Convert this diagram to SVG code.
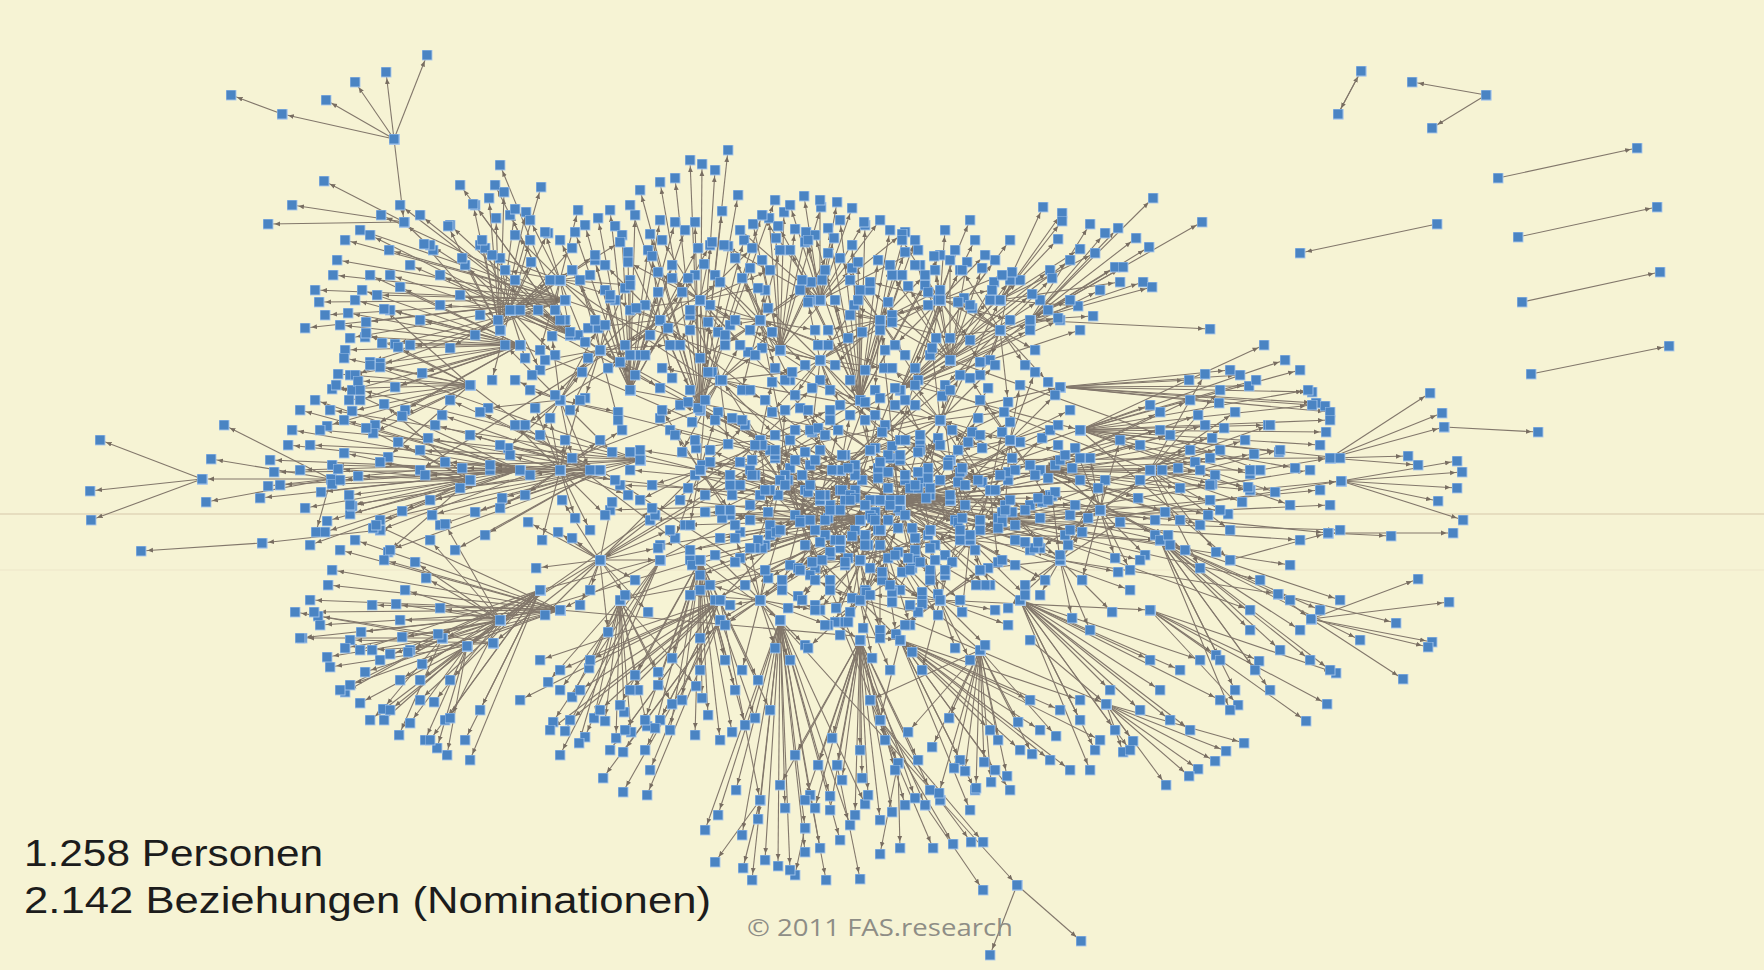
<svg xmlns="http://www.w3.org/2000/svg" xmlns:xlink="http://www.w3.org/1999/xlink" width="1764" height="970" viewBox="0 0 1764 970">
<style>
.E{fill:none;stroke:#82776b;stroke-width:1.1;marker-end:url(#ar)}
.N{fill:none;stroke:#000;stroke-opacity:0;marker-start:url(#sq);marker-end:url(#sq)}
.lbl{font-family:'Liberation Sans',Arial,sans-serif;fill:#1c1c1c}
</style>
<defs>
<marker id="ar" markerUnits="userSpaceOnUse" viewBox="0 0 12 6" markerWidth="12" markerHeight="6" refX="12" refY="3" orient="auto"><path d="M0 0.6L5.5 3L0 5.4z" fill="#786d61"/></marker>
<marker id="sq" markerUnits="userSpaceOnUse" viewBox="0 0 11 11" markerWidth="11" markerHeight="11" refX="5.5" refY="5.5" orient="0"><rect x="0.5" y="0.5" width="10" height="10" fill="#4a84c3" stroke="#a8c8ea" stroke-width="0.9"/></marker>
<g id="F1"><line x2="138" y2="4"/><line x2="126" y2="-27"/><line x2="118" y2="26"/><line x2="104" y2="-52"/><line x2="97" y2="48"/><line x2="86" y2="-76"/><line x2="82" y2="72"/><line x2="132" y2="-11"/><line x2="121" y2="15"/><line x2="72" y2="-38"/><line x2="68" y2="31"/><line x2="143" y2="41"/><line x2="112" y2="-4"/><line x2="90" y2="-18"/></g>
<g id="F2"><line x2="250" y2="-10"/><line x2="240" y2="15"/><line x2="228" y2="-40"/><line x2="215" y2="38"/><line x2="205" y2="-70"/><line x2="195" y2="62"/><line x2="232" y2="-25"/><line x2="260" y2="28"/><line x2="188" y2="-5"/><line x2="176" y2="-50"/><line x2="170" y2="44"/><line x2="246" y2="2"/><line x2="220" y2="-60"/><line x2="210" y2="75"/><line x2="199" y2="22"/><line x2="184" y2="-85"/></g>
<g id="F3"><line x2="100" y2="0"/><line x2="95" y2="-30"/><line x2="92" y2="32"/><line x2="85" y2="-58"/><line x2="80" y2="60"/><line x2="70" y2="-80"/><line x2="66" y2="82"/><line x2="55" y2="-96"/><line x2="50" y2="98"/><line x2="104" y2="-16"/><line x2="98" y2="17"/><line x2="74" y2="-42"/><line x2="78" y2="44"/><line x2="60" y2="-12"/><line x2="62" y2="14"/></g>
<g id="F4"><line x2="120" y2="110"/><line x2="140" y2="90"/><line x2="95" y2="130"/><line x2="160" y2="70"/><line x2="75" y2="150"/><line x2="110" y2="150"/><line x2="150" y2="120"/><line x2="180" y2="60"/><line x2="60" y2="120"/><line x2="130" y2="60"/><line x2="90" y2="90"/><line x2="170" y2="130"/><line x2="70" y2="170"/><line x2="200" y2="100"/></g>
<g id="F5"><line x2="40" y2="-30"/><line x2="-35" y2="25"/><line x2="55" y2="10"/><line x2="-50" y2="-15"/><line x2="15" y2="48"/><line x2="-10" y2="-52"/><line x2="62" y2="-40"/><line x2="-60" y2="38"/><line x2="30" y2="60"/><line x2="-25" y2="-62"/><line x2="68" y2="25"/><line x2="-70" y2="-5"/><line x2="5" y2="-30"/><line x2="-30" y2="5"/><line x2="45" y2="45"/><line x2="-45" y2="-45"/><line x2="20" y2="-70"/><line x2="-18" y2="70"/></g>
<g id="F6"><line x2="180" y2="-20"/><line x2="175" y2="5"/><line x2="170" y2="30"/><line x2="165" y2="-45"/><line x2="160" y2="55"/><line x2="150" y2="-70"/><line x2="145" y2="80"/><line x2="155" y2="-8"/><line x2="140" y2="18"/><line x2="130" y2="-35"/><line x2="125" y2="42"/><line x2="120" y2="-58"/><line x2="115" y2="65"/><line x2="110" y2="0"/><line x2="100" y2="-25"/><line x2="98" y2="28"/><line x2="172" y2="-32"/><line x2="168" y2="45"/><line x2="158" y2="-55"/><line x2="138" y2="-2"/></g>
<g id="F7"><line x2="320" y2="-30"/><line x2="300" y2="20"/><line x2="280" y2="-70"/><line x2="340" y2="10"/><line x2="260" y2="60"/><line x2="310" y2="-50"/><line x2="290" y2="45"/><line x2="270" y2="-95"/><line x2="330" y2="-15"/><line x2="250" y2="90"/></g>
<g id="F8"><line x2="35" y2="20"/><line x2="-42" y2="-28"/><line x2="58" y2="-12"/><line x2="-20" y2="45"/><line x2="12" y2="-58"/><line x2="-64" y2="8"/><line x2="48" y2="52"/><line x2="-38" y2="-60"/><line x2="70" y2="-30"/><line x2="-55" y2="55"/><line x2="25" y2="35"/><line x2="-28" y2="-22"/><line x2="8" y2="72"/><line x2="-72" y2="-38"/><line x2="52" y2="-52"/><line x2="-10" y2="30"/></g>

<g id="graph">
<g id="star-top-left">
<line x1="394" y1="139" x2="282" y2="114"/><line x1="282" y1="114" x2="231" y2="95"/><line x1="394" y1="139" x2="326" y2="100"/><line x1="394" y1="139" x2="355" y2="82"/><line x1="394" y1="139" x2="386" y2="72"/><line x1="394" y1="139" x2="427" y2="55"/><line x1="394" y1="139" x2="404" y2="222"/><line x1="404" y1="222" x2="324" y2="181"/><line x1="404" y1="222" x2="292" y2="205"/><line x1="404" y1="222" x2="268" y2="224"/><line x1="433" y1="250" x2="404" y2="222"/>
</g>
<g id="star-left">
<line x1="331" y1="479" x2="202" y2="479"/><line x1="202" y1="479" x2="100" y2="440"/><line x1="331" y1="479" x2="211" y2="459"/><line x1="331" y1="479" x2="206" y2="502"/><line x1="202" y1="479" x2="90" y2="491"/><line x1="202" y1="479" x2="91" y2="520"/><line x1="331" y1="479" x2="224" y2="425"/><line x1="331" y1="479" x2="268" y2="486"/><line x1="331" y1="479" x2="316" y2="532"/><line x1="420" y1="470" x2="331" y2="479"/><line x1="262" y1="543" x2="141" y2="551"/><line x1="380" y1="530" x2="262" y2="543"/>
</g>
<g id="isolated-right">
<line x1="1338" y1="114" x2="1361" y2="71"/><line x1="1361" y1="71" x2="1338" y2="114"/><line x1="1486" y1="95" x2="1412" y2="82"/><line x1="1486" y1="95" x2="1432" y2="128"/><line x1="1498" y1="178" x2="1637" y2="148"/><line x1="1518" y1="237" x2="1657" y2="207"/><line x1="1522" y1="302" x2="1660" y2="272"/><line x1="1531" y1="374" x2="1669" y2="346"/><line x1="1437" y1="224" x2="1300" y2="253"/><line x1="1444" y1="427" x2="1538" y2="432"/>
</g>
<g id="tail-bottom">
<line x1="940" y1="800" x2="1017" y2="885"/><line x1="1017" y1="885" x2="990" y2="955"/><line x1="1017" y1="885" x2="1081" y2="941"/><line x1="925" y1="805" x2="983" y2="890"/>
<line x1="805" y1="828" x2="795" y2="875"/><line x1="810" y1="795" x2="826" y2="880"/><line x1="837" y1="765" x2="860" y2="879"/><line x1="898" y1="763" x2="880" y2="854"/><line x1="898" y1="763" x2="900" y2="848"/><line x1="870" y1="700" x2="933" y2="848"/><line x1="880" y1="720" x2="953" y2="844"/><line x1="880" y1="720" x2="971" y2="842"/><line x1="880" y1="720" x2="983" y2="842"/><line x1="760" y1="800" x2="715" y2="862"/><line x1="760" y1="800" x2="743" y2="868"/>
</g>
<g id="fan-upper-right">
<line x1="1030" y1="320" x2="1153" y2="198"/><line x1="1030" y1="320" x2="1090" y2="224"/><line x1="1030" y1="320" x2="1105" y2="233"/><line x1="1030" y1="320" x2="1118" y2="228"/><line x1="1030" y1="320" x2="1136" y2="238"/><line x1="1030" y1="320" x2="1149" y2="247"/><line x1="1030" y1="320" x2="1115" y2="267"/><line x1="1030" y1="320" x2="1123" y2="267"/><line x1="1030" y1="320" x2="1143" y2="282"/><line x1="1030" y1="320" x2="1152" y2="287"/><line x1="1030" y1="320" x2="1202" y2="222"/><line x1="1030" y1="320" x2="1210" y2="329"/><line x1="1030" y1="320" x2="1093" y2="316"/>
<line x1="1000" y1="300" x2="1043" y2="207"/><line x1="1000" y1="300" x2="1062" y2="213"/><line x1="1000" y1="300" x2="1062" y2="221"/><line x1="1000" y1="300" x2="1058" y2="239"/><line x1="1000" y1="300" x2="1080" y2="249"/><line x1="1000" y1="300" x2="1095" y2="253"/><line x1="1000" y1="300" x2="1120" y2="282"/><line x1="1000" y1="300" x2="1078" y2="306"/>
</g>
<g id="fans-right">
<line x1="1060" y1="387" x2="1189" y2="380"/><line x1="1060" y1="387" x2="1230" y2="370"/><line x1="1060" y1="387" x2="1240" y2="375"/><line x1="1060" y1="387" x2="1249" y2="386"/><line x1="1060" y1="387" x2="1219" y2="403"/><line x1="1060" y1="387" x2="1312" y2="392"/><line x1="1060" y1="387" x2="1316" y2="403"/><line x1="1060" y1="387" x2="1325" y2="406"/><line x1="1060" y1="387" x2="1330" y2="412"/>
<line x1="1330" y1="458" x2="1430" y2="393"/><line x1="1330" y1="458" x2="1442" y2="413"/><line x1="1330" y1="458" x2="1444" y2="427"/><line x1="1330" y1="458" x2="1408" y2="456"/><line x1="1330" y1="458" x2="1418" y2="465"/>
<line x1="1341" y1="481" x2="1457" y2="461"/><line x1="1341" y1="481" x2="1462" y2="472"/><line x1="1341" y1="481" x2="1457" y2="488"/><line x1="1341" y1="481" x2="1438" y2="501"/><line x1="1341" y1="481" x2="1463" y2="520"/>
<line x1="1328" y1="533" x2="1391" y2="536"/><line x1="1328" y1="533" x2="1453" y2="533"/><line x1="1260" y1="470" x2="1330" y2="458"/><line x1="1250" y1="490" x2="1341" y2="481"/><line x1="1230" y1="560" x2="1328" y2="533"/>
<line x1="1311" y1="619" x2="1418" y2="579"/><line x1="1311" y1="619" x2="1449" y2="602"/><line x1="1311" y1="619" x2="1432" y2="642"/><line x1="1311" y1="619" x2="1428" y2="647"/><line x1="1311" y1="619" x2="1403" y2="679"/><line x1="1278" y1="594" x2="1396" y2="623"/><line x1="1278" y1="594" x2="1311" y2="619"/>
<line x1="1106" y1="704" x2="1244" y2="743"/><line x1="1106" y1="704" x2="1226" y2="751"/><line x1="1106" y1="704" x2="1215" y2="761"/><line x1="1106" y1="704" x2="1198" y2="769"/><line x1="1106" y1="704" x2="1189" y2="776"/><line x1="1106" y1="704" x2="1166" y2="785"/><line x1="1106" y1="704" x2="1133" y2="741"/><line x1="1106" y1="704" x2="1123" y2="752"/><line x1="1030" y1="640" x2="1106" y2="704"/>
<line x1="1150" y1="610" x2="1259" y2="661"/><line x1="1150" y1="610" x2="1306" y2="721"/><line x1="1150" y1="610" x2="1327" y2="704"/><line x1="1150" y1="610" x2="1336" y2="673"/><line x1="1150" y1="610" x2="1216" y2="655"/><line x1="1150" y1="610" x2="1238" y2="705"/>
</g>
<g id="fans-lower-left">
<line x1="442" y1="638" x2="295" y2="612"/><line x1="442" y1="638" x2="302" y2="638"/><line x1="442" y1="638" x2="327" y2="657"/><line x1="442" y1="638" x2="345" y2="692"/><line x1="442" y1="638" x2="383" y2="709"/><line x1="442" y1="638" x2="399" y2="735"/>
<line x1="467" y1="646" x2="330" y2="667"/><line x1="467" y1="646" x2="360" y2="703"/><line x1="467" y1="646" x2="384" y2="720"/><line x1="467" y1="646" x2="425" y2="740"/><line x1="467" y1="646" x2="447" y2="755"/><line x1="467" y1="646" x2="410" y2="723"/><line x1="467" y1="646" x2="437" y2="748"/>
<line x1="493" y1="643" x2="318" y2="616"/><line x1="493" y1="643" x2="350" y2="640"/><line x1="493" y1="643" x2="372" y2="650"/>
<line x1="660" y1="560" x2="553" y2="722"/><line x1="660" y1="560" x2="560" y2="690"/><line x1="660" y1="560" x2="565" y2="731"/><line x1="660" y1="560" x2="585" y2="737"/><line x1="660" y1="560" x2="560" y2="755"/>
<line x1="720" y1="620" x2="623" y2="752"/><line x1="720" y1="620" x2="603" y2="778"/><line x1="720" y1="620" x2="623" y2="792"/><line x1="720" y1="620" x2="647" y2="795"/>
</g>
<g id="cross-links">
<line x1="520" y1="345" x2="900" y2="510"/><line x1="565" y1="300" x2="860" y2="400"/><line x1="700" y1="410" x2="900" y2="510"/><line x1="630" y1="390" x2="1040" y2="470"/><line x1="780" y1="350" x2="1080" y2="430"/><line x1="470" y1="385" x2="780" y2="620"/><line x1="520" y1="470" x2="900" y2="510"/><line x1="600" y1="470" x2="860" y2="640"/><line x1="640" y1="460" x2="1000" y2="520"/><line x1="540" y1="590" x2="880" y2="500"/><line x1="560" y1="610" x2="900" y2="640"/><line x1="620" y1="600" x2="1100" y2="510"/><line x1="720" y1="600" x2="950" y2="360"/><line x1="980" y1="650" x2="700" y2="410"/><line x1="1160" y1="540" x2="840" y2="470"/><line x1="1150" y1="470" x2="760" y2="320"/><line x1="1020" y1="600" x2="660" y2="320"/><line x1="1000" y1="330" x2="600" y2="560"/><line x1="860" y1="400" x2="500" y2="620"/><line x1="900" y1="390" x2="970" y2="540"/><line x1="880" y1="320" x2="900" y2="510"/><line x1="760" y1="320" x2="800" y2="520"/><line x1="510" y1="310" x2="760" y2="440"/><line x1="560" y1="400" x2="840" y2="470"/><line x1="700" y1="470" x2="1060" y2="387"/><line x1="950" y1="460" x2="1330" y2="458"/><line x1="970" y1="540" x2="1341" y2="481"/><line x1="1100" y1="510" x2="1328" y2="533"/><line x1="1060" y1="560" x2="1278" y2="594"/><line x1="940" y1="600" x2="1150" y2="610"/><line x1="860" y1="600" x2="1106" y2="704"/><line x1="760" y1="600" x2="940" y2="800"/><line x1="800" y1="520" x2="925" y2="805"/><line x1="700" y1="560" x2="442" y2="638"/><line x1="760" y1="440" x2="467" y2="646"/><line x1="650" y1="520" x2="493" y2="643"/><line x1="600" y1="560" x2="660" y2="560"/><line x1="900" y1="510" x2="720" y2="620"/><line x1="840" y1="470" x2="1030" y2="320"/><line x1="900" y1="510" x2="1000" y2="300"/><line x1="660" y1="320" x2="420" y2="470"/><line x1="700" y1="410" x2="380" y2="530"/><line x1="950" y1="360" x2="1260" y2="470"/><line x1="1040" y1="470" x2="1250" y2="490"/><line x1="1080" y1="430" x2="1230" y2="560"/><line x1="980" y1="650" x2="870" y2="700"/><line x1="900" y1="640" x2="880" y2="720"/><line x1="860" y1="640" x2="837" y2="765"/><line x1="780" y1="620" x2="810" y2="795"/><line x1="780" y1="620" x2="805" y2="828"/><line x1="720" y1="600" x2="760" y2="800"/><line x1="840" y1="622" x2="898" y2="763"/>
<line x1="820" y1="500" x2="1060" y2="387"/><line x1="930" y1="530" x2="600" y2="350"/><line x1="870" y1="450" x2="560" y2="610"/><line x1="990" y1="490" x2="700" y2="300"/><line x1="780" y1="480" x2="1150" y2="470"/><line x1="900" y1="500" x2="620" y2="600"/><line x1="880" y1="530" x2="1160" y2="540"/><line x1="720" y1="380" x2="940" y2="420"/><line x1="820" y1="380" x2="1000" y2="520"/><line x1="940" y1="420" x2="760" y2="600"/><line x1="940" y1="300" x2="860" y2="560"/><line x1="820" y1="360" x2="970" y2="540"/><line x1="700" y1="300" x2="900" y2="510"/><line x1="560" y1="280" x2="840" y2="470"/><line x1="1000" y1="520" x2="780" y2="480"/><line x1="860" y1="560" x2="1100" y2="510"/>
</g>
<use id="ul1" href="#F6" transform="translate(520,345) scale(-1,1)"/>
<use id="ul2" href="#F2" transform="translate(565,300) scale(-1,1)"/>
<use id="ul3" href="#F1" transform="translate(470,385) scale(-1,1)"/>
<use id="ul4" href="#F4" transform="translate(570,335) scale(-1,-1)"/>
<use id="ul5" href="#F5" transform="translate(510,310)"/>
<use id="ul6" href="#F8" transform="translate(560,400) rotate(90)"/>
<use id="ul7" href="#F1" transform="translate(500,330) rotate(-90)"/>
<use id="ub1" href="#F2" transform="translate(700,410) rotate(-90)"/>
<use id="ub2" href="#F6" transform="translate(630,390) rotate(-90)"/>
<use id="ub3" href="#F1" transform="translate(780,350) rotate(-90)"/>
<use id="ub4" href="#F6" transform="translate(860,400) rotate(-90)"/>
<use id="ub5" href="#F4" transform="translate(900,390) scale(1,-1)"/>
<use id="ub6" href="#F3" transform="translate(950,360) rotate(-90)"/>
<use id="ub7" href="#F3" transform="translate(820,300) rotate(-90)"/>
<use id="ub8" href="#F5" transform="translate(760,320)"/>
<use id="ub9" href="#F8" transform="translate(660,320) rotate(90)"/>
<use id="ub10" href="#F5" transform="translate(880,320) rotate(-90)"/>
<use id="ub11" href="#F8" transform="translate(1000,330)"/>
<use id="ub12" href="#F5" transform="translate(600,350) scale(-1,1)"/>
<use id="ub13" href="#F5" transform="translate(560,280) rotate(180)"/>
<use id="ub14" href="#F8" transform="translate(700,300)"/>
<use id="ub15" href="#F5" transform="translate(940,300) rotate(90)"/>
<use id="ub16" href="#F8" transform="translate(820,360) scale(-1,1)"/>
<use id="ub17" href="#F8" transform="translate(720,380) rotate(-90)"/>
<use id="r1" href="#F6" transform="translate(1040,470)"/>
<use id="r2" href="#F2" transform="translate(1080,430)"/>
<use id="r3" href="#F4" transform="translate(1160,540)"/>
<use id="r4" href="#F4" transform="translate(1020,600)"/>
<use id="r5" href="#F3" transform="translate(1150,470)"/>
<use id="r6" href="#F7" transform="translate(1000,520)"/>
<use id="r7" href="#F5" transform="translate(1100,510)"/>
<use id="r8" href="#F8" transform="translate(1060,560) rotate(90)"/>
<use id="c1" href="#F5" transform="translate(900,510)"/>
<use id="c2" href="#F8" transform="translate(900,510) rotate(90)"/>
<use id="c3" href="#F5" transform="translate(840,470) rotate(-90)"/>
<use id="c4" href="#F8" transform="translate(970,540) scale(-1,1)"/>
<use id="c5" href="#F5" transform="translate(800,520)"/>
<use id="c6" href="#F8" transform="translate(950,460) rotate(90)"/>
<use id="c7" href="#F5" transform="translate(860,560) scale(1,-1)"/>
<use id="c8" href="#F7" transform="translate(880,500)"/>
<use id="c9" href="#F7" transform="translate(950,500) scale(-1,1)"/>
<use id="c10" href="#F6" transform="translate(860,520) scale(-1,1)"/>
<use id="c11" href="#F8" transform="translate(760,440)"/>
<use id="c12" href="#F5" transform="translate(700,470) rotate(90)"/>
<use id="c13" href="#F5" transform="translate(820,500) rotate(180)"/>
<use id="c14" href="#F8" transform="translate(930,530) rotate(-90)"/>
<use id="c15" href="#F5" transform="translate(870,450) scale(-1,1)"/>
<use id="c16" href="#F8" transform="translate(990,490)"/>
<use id="c17" href="#F5" transform="translate(780,480) rotate(90)"/>
<use id="c18" href="#F6" transform="translate(900,500)"/>
<use id="c19" href="#F3" transform="translate(880,530) rotate(90)"/>
<use id="c20" href="#F8" transform="translate(940,420) rotate(180)"/>
<use id="c21" href="#F5" transform="translate(1010,440) rotate(-90)"/>
<use id="c22" href="#F8" transform="translate(840,540) scale(1,-1)"/>
<use id="l1" href="#F2" transform="translate(520,470) scale(-1,1)"/>
<use id="l2" href="#F1" transform="translate(470,480) scale(-1,1)"/>
<use id="l3" href="#F6" transform="translate(600,470) scale(-1,1)"/>
<use id="l4" href="#F7" transform="translate(640,460) scale(-1,1)"/>
<use id="l5" href="#F5" transform="translate(560,470)"/>
<use id="ll1" href="#F4" transform="translate(540,590) scale(-1,1)"/>
<use id="ll2" href="#F2" transform="translate(560,610) scale(-1,1)"/>
<use id="ll3" href="#F1" transform="translate(620,600) rotate(90)"/>
<use id="ll4" href="#F8" transform="translate(600,560)"/>
<use id="ll5" href="#F3" transform="translate(500,620) scale(-1,1)"/>
<use id="bo1" href="#F2" transform="translate(780,620) rotate(90)"/>
<use id="bo2" href="#F6" transform="translate(860,640) rotate(90)"/>
<use id="bo3" href="#F4" transform="translate(900,640)"/>
<use id="bo4" href="#F4" transform="translate(720,600) scale(-1,1)"/>
<use id="bo5" href="#F1" transform="translate(980,650) rotate(90)"/>
<use id="bo6" href="#F5" transform="translate(760,600)"/>
<use id="bo7" href="#F8" transform="translate(860,600) rotate(90)"/>
<use id="bo8" href="#F5" transform="translate(940,600)"/>
<use id="bo9" href="#F6" transform="translate(700,560) rotate(90)"/>
</g>
</defs>
<rect width="1764" height="970" fill="#f6f3d4"/>
<line x1="0" y1="514" x2="1764" y2="514" stroke="#e6ddbf" stroke-width="2"/>
<line x1="0" y1="570" x2="1764" y2="570" stroke="#ede6c9" stroke-width="1"/>
<g id="connectors"><use href="#graph" class="E"/></g>
<g id="nodes"><use href="#graph" class="N"/></g>
<g id="legend">
<text class="lbl" x="24" y="866" font-size="37" textLength="299" lengthAdjust="spacingAndGlyphs">1.258 Personen</text>
<text class="lbl" x="24" y="913" font-size="37" textLength="687" lengthAdjust="spacingAndGlyphs">2.142 Beziehungen (Nominationen)</text>
<text x="747" y="936" font-family="'Open Sans','Liberation Sans',sans-serif" font-size="24" fill="#8e8d86" textLength="266" lengthAdjust="spacingAndGlyphs">© 2011 FAS.research</text>
</g>
</svg>
